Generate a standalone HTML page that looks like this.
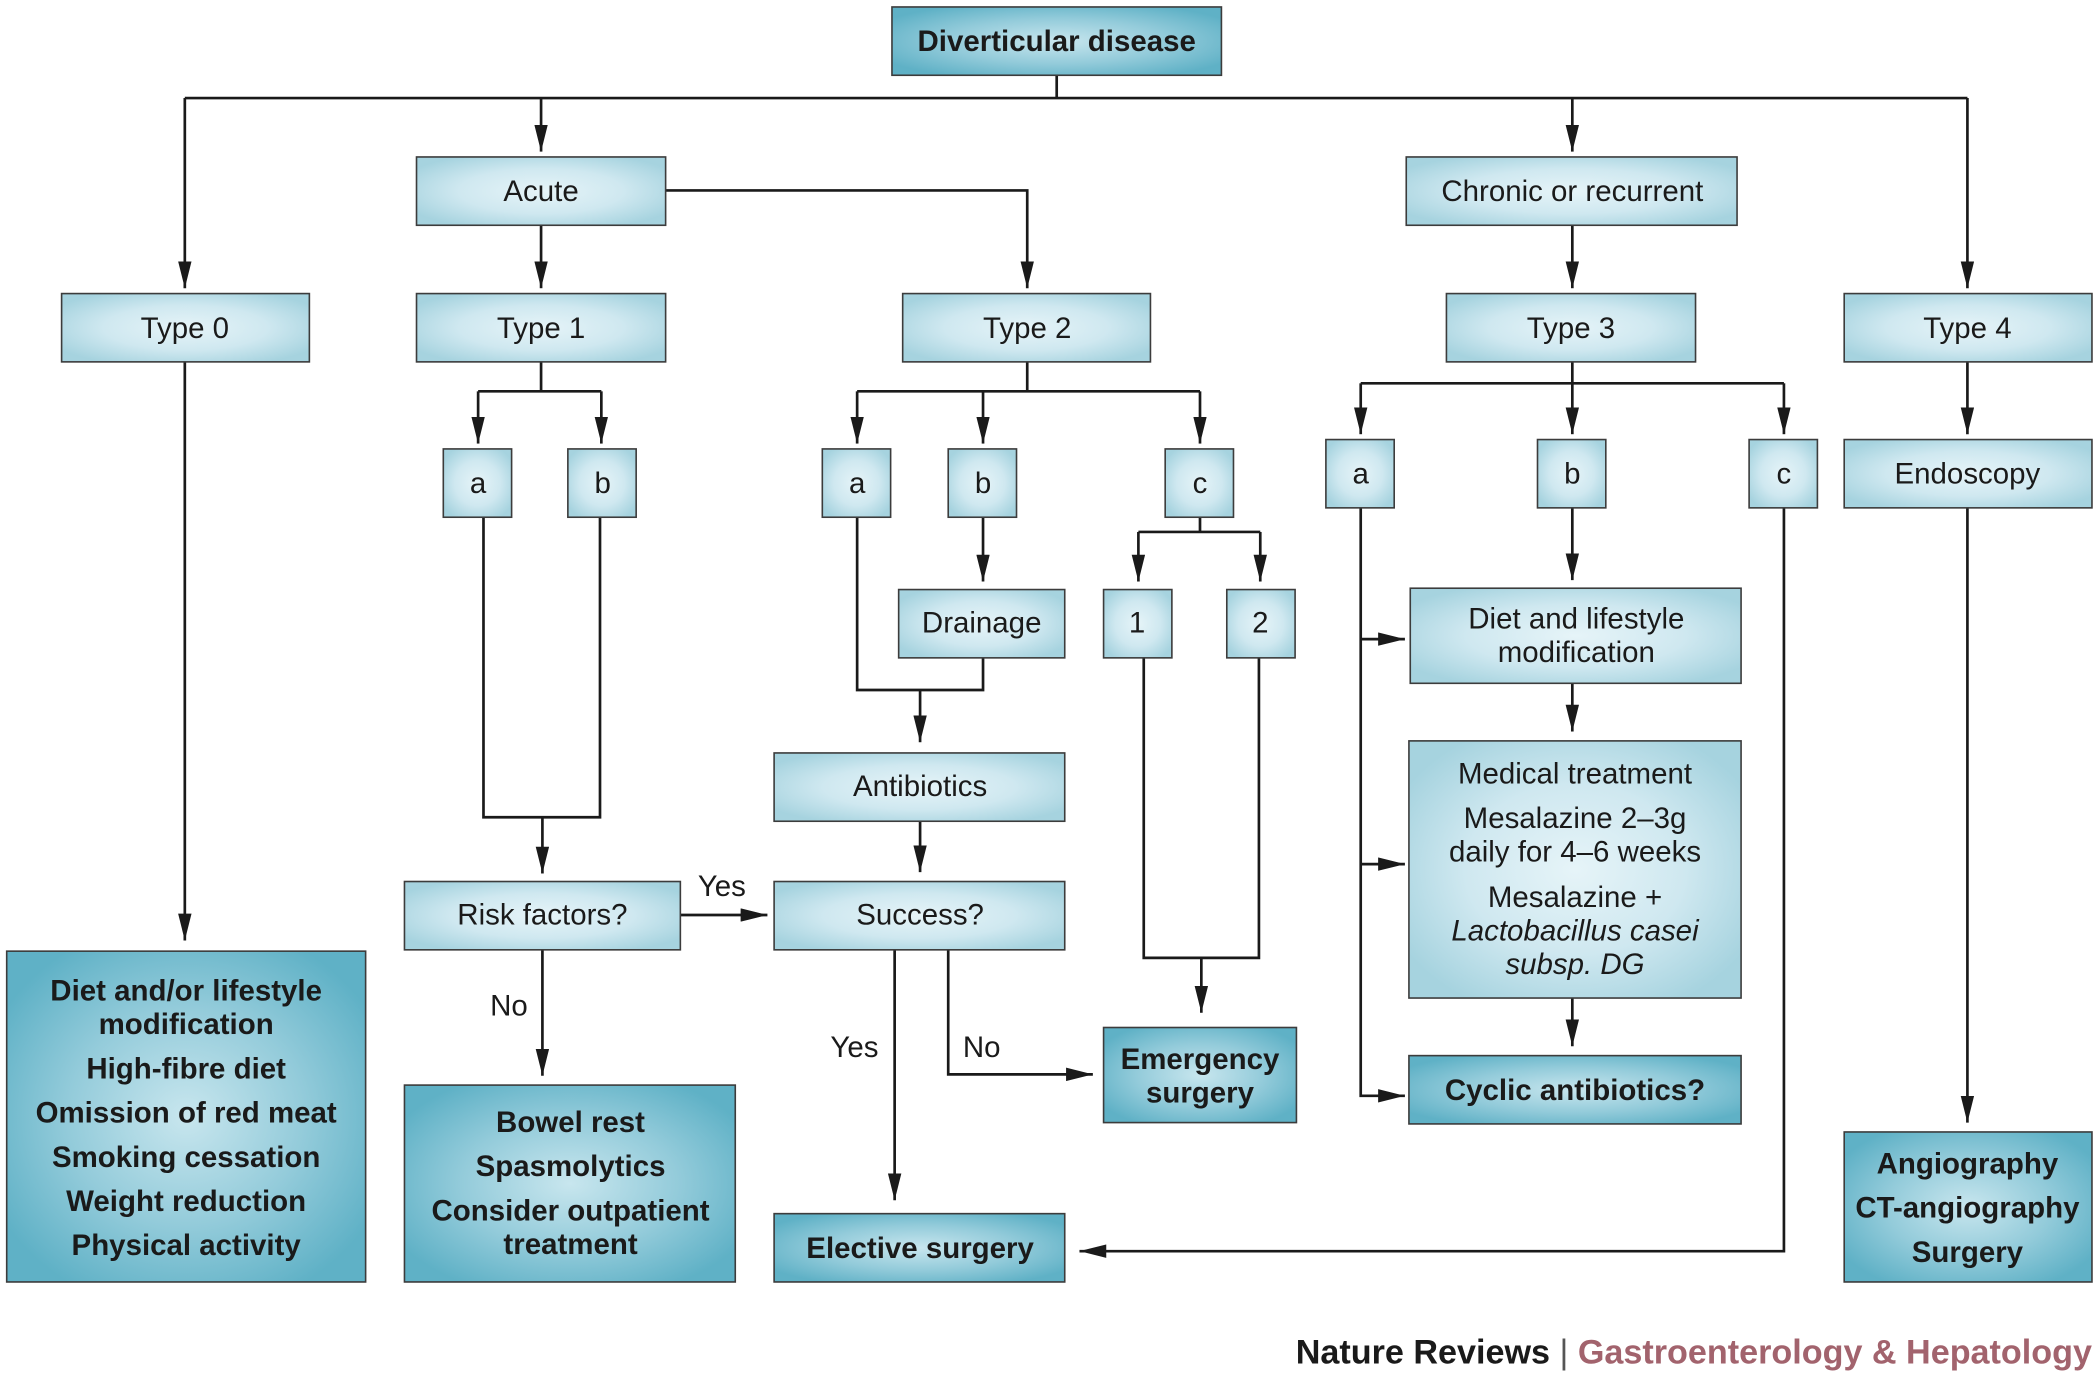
<!DOCTYPE html>
<html><head><meta charset="utf-8"><style>
html,body{margin:0;padding:0;background:#fff}
svg{display:block}
text{font-family:"Liberation Sans",sans-serif;fill:#1a1a1a}
.t{font-size:22px}
.b{font-size:22px;font-weight:bold}
</style></head><body>
<svg width="2100" height="1380" viewBox="0 0 1568 1030" xmlns="http://www.w3.org/2000/svg">
<defs>
<radialGradient id="lg" cx="50%" cy="50%" r="60%">
<stop offset="0" stop-color="#e6f4f8"/><stop offset="0.55" stop-color="#cfe8f0"/><stop offset="1" stop-color="#a6d3df"/>
</radialGradient>
<radialGradient id="dg" cx="50%" cy="50%" r="60%">
<stop offset="0" stop-color="#c8e6ee"/><stop offset="0.55" stop-color="#93cbda"/><stop offset="1" stop-color="#5fb1c6"/>
</radialGradient>
<marker id="a" viewBox="0 0 20 10" refX="20" refY="5" markerWidth="20" markerHeight="10" markerUnits="userSpaceOnUse" orient="auto">
<path d="M0,0 L20,5 L0,10 Z" fill="#1a1a1a"/>
</marker>
</defs>
<g fill="none" stroke="#1a1a1a" stroke-width="2">
<path d="M789,56 V73 M138,73 H1469"/>
<path d="M138,73 V215" marker-end="url(#a)"/>
<path d="M404,73 V113" marker-end="url(#a)"/>
<path d="M1174,73 V113" marker-end="url(#a)"/>
<path d="M1469,73 V215" marker-end="url(#a)"/>
<path d="M497,142 H767 V215" marker-end="url(#a)"/>
<path d="M404,168 V215" marker-end="url(#a)"/>
<path d="M1174,168 V215" marker-end="url(#a)"/>
<path d="M404,270 V292 M357,292 H449"/>
<path d="M357,292 V331" marker-end="url(#a)"/>
<path d="M449,292 V331" marker-end="url(#a)"/>
<path d="M767,270 V292 M640,292 H896"/>
<path d="M640,292 V331" marker-end="url(#a)"/>
<path d="M734,292 V331" marker-end="url(#a)"/>
<path d="M896,292 V331" marker-end="url(#a)"/>
<path d="M1174,270 V286 M1016,286 H1332"/>
<path d="M1016,286 V324" marker-end="url(#a)"/>
<path d="M1174,286 V324" marker-end="url(#a)"/>
<path d="M1332,286 V324" marker-end="url(#a)"/>
<path d="M1469,270 V324" marker-end="url(#a)"/>
<path d="M138,270 V702" marker-end="url(#a)"/>
<path d="M361,386 V610 H448 V386"/>
<path d="M405,610 V652" marker-end="url(#a)"/>
<path d="M640,386 V515 H734 V491"/>
<path d="M687,515 V554" marker-end="url(#a)"/>
<path d="M734,386 V434" marker-end="url(#a)"/>
<path d="M896,386 V397 M850,397 H941"/>
<path d="M850,397 V434" marker-end="url(#a)"/>
<path d="M941,397 V434" marker-end="url(#a)"/>
<path d="M854,491 V715 H940 V491"/>
<path d="M897,715 V756" marker-end="url(#a)"/>
<path d="M687,613 V651" marker-end="url(#a)"/>
<path d="M508,683 H573" marker-end="url(#a)"/>
<path d="M405,709 V803" marker-end="url(#a)"/>
<path d="M668,709 V896" marker-end="url(#a)"/>
<path d="M708,709 V802 H816" marker-end="url(#a)"/>
<path d="M1016,379 V818 H1049" marker-end="url(#a)"/>
<path d="M1016,477 H1049" marker-end="url(#a)"/>
<path d="M1016,645 H1049" marker-end="url(#a)"/>
<path d="M1174,379 V433" marker-end="url(#a)"/>
<path d="M1174,510 V546" marker-end="url(#a)"/>
<path d="M1174,745 V781" marker-end="url(#a)"/>
<path d="M1332,379 V934 H806" marker-end="url(#a)"/>
<path d="M1469,379 V838" marker-end="url(#a)"/>
</g>
<g stroke="#3c3c3c" stroke-width="1.2">
<rect x="666" y="5" width="246" height="51" fill="url(#dg)"/>
<rect x="311" y="117" width="186" height="51" fill="url(#lg)"/>
<rect x="1050" y="117" width="247" height="51" fill="url(#lg)"/>
<rect x="46" y="219" width="185" height="51" fill="url(#lg)"/>
<rect x="311" y="219" width="186" height="51" fill="url(#lg)"/>
<rect x="674" y="219" width="185" height="51" fill="url(#lg)"/>
<rect x="1080" y="219" width="186" height="51" fill="url(#lg)"/>
<rect x="1377" y="219" width="185" height="51" fill="url(#lg)"/>
<rect x="331" y="335" width="51" height="51" fill="url(#lg)"/>
<rect x="424" y="335" width="51" height="51" fill="url(#lg)"/>
<rect x="614" y="335" width="51" height="51" fill="url(#lg)"/>
<rect x="708" y="335" width="51" height="51" fill="url(#lg)"/>
<rect x="870" y="335" width="51" height="51" fill="url(#lg)"/>
<rect x="990" y="328" width="51" height="51" fill="url(#lg)"/>
<rect x="1148" y="328" width="51" height="51" fill="url(#lg)"/>
<rect x="1306" y="328" width="51" height="51" fill="url(#lg)"/>
<rect x="1377" y="328" width="185" height="51" fill="url(#lg)"/>
<rect x="671" y="440" width="124" height="51" fill="url(#lg)"/>
<rect x="824" y="440" width="51" height="51" fill="url(#lg)"/>
<rect x="916" y="440" width="51" height="51" fill="url(#lg)"/>
<rect x="1053" y="439" width="247" height="71" fill="url(#lg)"/>
<rect x="578" y="562" width="217" height="51" fill="url(#lg)"/>
<rect x="1052" y="553" width="248" height="192" fill="url(#lg)"/>
<rect x="302" y="658" width="206" height="51" fill="url(#lg)"/>
<rect x="578" y="658" width="217" height="51" fill="url(#lg)"/>
<rect x="824" y="767" width="144" height="71" fill="url(#dg)"/>
<rect x="1052" y="788" width="248" height="51" fill="url(#dg)"/>
<rect x="5" y="710" width="268" height="247" fill="url(#dg)"/>
<rect x="302" y="810" width="247" height="147" fill="url(#dg)"/>
<rect x="578" y="906" width="217" height="51" fill="url(#dg)"/>
<rect x="1377" y="845" width="185" height="112" fill="url(#dg)"/>
</g>
<g text-anchor="middle">
<text class="b" x="789" y="38">Diverticular disease</text>
<text class="t" x="404" y="150">Acute</text>
<text class="t" x="1174" y="150">Chronic or recurrent</text>
<text class="t" x="138" y="252">Type 0</text>
<text class="t" x="404" y="252">Type 1</text>
<text class="t" x="767" y="252">Type 2</text>
<text class="t" x="1173" y="252">Type 3</text>
<text class="t" x="1469" y="252">Type 4</text>
<text class="t" x="357" y="368">a</text>
<text class="t" x="450" y="368">b</text>
<text class="t" x="640" y="368">a</text>
<text class="t" x="734" y="368">b</text>
<text class="t" x="896" y="368">c</text>
<text class="t" x="1016" y="361">a</text>
<text class="t" x="1174" y="361">b</text>
<text class="t" x="1332" y="361">c</text>
<text class="t" x="1469" y="361">Endoscopy</text>
<text class="t" x="733" y="472">Drainage</text>
<text class="t" x="849" y="472">1</text>
<text class="t" x="941" y="472">2</text>
<text class="t" x="1177" y="469">Diet and lifestyle</text>
<text class="t" x="1177" y="494">modification</text>
<text class="t" x="687" y="594">Antibiotics</text>
<text class="t" x="1176" y="585">Medical treatment</text>
<text class="t" x="1176" y="618">Mesalazine 2–3g</text>
<text class="t" x="1176" y="643">daily for 4–6 weeks</text>
<text class="t" x="1176" y="677">Mesalazine +</text>
<text class="t" x="1176" y="702" font-style="italic">Lactobacillus casei</text>
<text class="t" x="1176" y="727" font-style="italic">subsp. DG</text>
<text class="t" x="405" y="690">Risk factors?</text>
<text class="t" x="687" y="690">Success?</text>
<text class="t" x="539" y="669">Yes</text>
<text class="t" x="380" y="758">No</text>
<text class="t" x="638" y="789">Yes</text>
<text class="t" x="733" y="789">No</text>
<text class="b" x="896" y="798">Emergency</text>
<text class="b" x="896" y="823">surgery</text>
<text class="b" x="1176" y="821">Cyclic antibiotics?</text>
<text class="b" x="139" y="747">Diet and/or lifestyle</text>
<text class="b" x="139" y="772">modification</text>
<text class="b" x="139" y="805">High-fibre diet</text>
<text class="b" x="139" y="838">Omission of red meat</text>
<text class="b" x="139" y="871">Smoking cessation</text>
<text class="b" x="139" y="904">Weight reduction</text>
<text class="b" x="139" y="937">Physical activity</text>
<text class="b" x="426" y="845">Bowel rest</text>
<text class="b" x="426" y="878">Spasmolytics</text>
<text class="b" x="426" y="911">Consider outpatient</text>
<text class="b" x="426" y="936">treatment</text>
<text class="b" x="687" y="939">Elective surgery</text>
<text class="b" x="1469" y="876">Angiography</text>
<text class="b" x="1469" y="909">CT-angiography</text>
<text class="b" x="1469" y="942">Surgery</text>
</g>
<text x="1562" y="1018" text-anchor="end" style="font-size:25.5px;font-weight:bold"><tspan fill="#1a1a1a">Nature Reviews</tspan><tspan fill="#555" font-weight="normal"> | </tspan><tspan fill="#a2636d">Gastroenterology &amp; Hepatology</tspan></text>
</svg>
</body></html>
